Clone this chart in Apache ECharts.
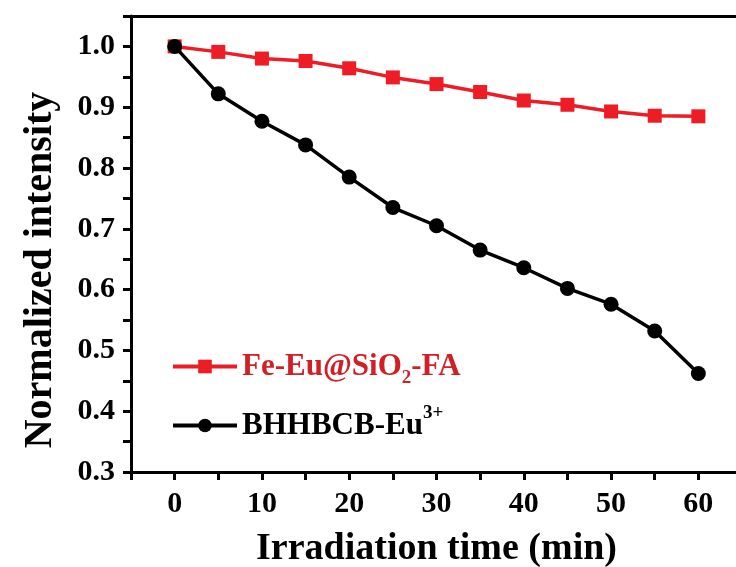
<!DOCTYPE html>
<html>
<head>
<meta charset="utf-8">
<script src="https://cdn.jsdelivr.net/npm/echarts@6/dist/echarts.min.js"></script>
<style>html,body{margin:0;padding:0;background:#fff}#c{width:736px;height:567px}</style>
</head>
<body>
<div id="c"></div>
<script>
var times = [0, 5, 10, 15, 20, 25, 30, 35, 40, 45, 50, 55, 60];
var feEuSiO2FA = [1.000, 0.991, 0.980, 0.976, 0.964, 0.949, 0.938, 0.925, 0.911, 0.904, 0.893, 0.886, 0.885];
var bhhbcbEu = [1.000, 0.922, 0.877, 0.838, 0.785, 0.735, 0.705, 0.665, 0.636, 0.602, 0.576, 0.532, 0.462];
var seriesNames = ['Fe-Eu@SiO2-FA', 'BHHBCB-Eu3+'];
var xTitle = 'Irradiation time (min)';
var yTitle = 'Normalized intensity';

var FONT = '"Liberation Serif", "Times New Roman", serif';
var RED = '#ee1c25';
var RED_TEXT = '#d11f26';

function pairs(xs, ys) { return xs.map(function (x, i) { return [x, ys[i]]; }); }

var chart = echarts.init(document.getElementById('c'), null, {renderer: 'canvas'});
chart.setOption({
  animation: false,
  backgroundColor: '#fff',
  grid: {left: 131, top: 16, width: 611, bottom: 95, show: false, containLabel: false, outerBoundsMode: 'none'},
  legend: {
    orient: 'vertical', left: 166, top: 346, itemWidth: 64, itemHeight: 17, itemGap: 16,
    data: seriesNames,
    lineStyle: {width: 4},
    formatter: function (name) {
      if (name === seriesNames[0]) return '{r|Fe-Eu@SiO}{rs|2}{r|-FA}';
      return '{k|BHHBCB-Eu}{ks|3+}';
    },
    textStyle: {
      fontFamily: FONT, fontWeight: 'bold', fontSize: 31,
      rich: {
        r: {color: RED_TEXT, fontFamily: FONT, fontWeight: 'bold', fontSize: 31},
        rs: {color: RED_TEXT, fontFamily: FONT, fontWeight: 'bold', fontSize: 19, padding: [24, 0, 0, 0]},
        k: {color: '#000', fontFamily: FONT, fontWeight: 'bold', fontSize: 31},
        ks: {color: '#000', fontFamily: FONT, fontWeight: 'bold', fontSize: 19, padding: [0, 0, 24, 0]}
      }
    }
  },
  xAxis: [{
    type: 'value', min: -5, max: 65, interval: 5,
    name: xTitle, nameLocation: 'middle', nameGap: 58,
    nameTextStyle: {fontFamily: FONT, fontWeight: 'bold', fontSize: 38, color: '#000'},
    axisLine: {show: true, onZero: false, lineStyle: {color: '#000', width: 3}},
    axisTick: {show: true, inside: false, length: 8, lineStyle: {color: '#000', width: 3}},
    splitLine: {show: false},
    axisLabel: {
      margin: 17, color: '#000', fontFamily: FONT, fontWeight: 'bold', fontSize: 30,
      formatter: function (v) { return (v >= 0 && Math.round(v) % 10 === 0) ? String(Math.round(v)) : ''; }
    }
  }, {
    type: 'value', position: 'top', min: -5, max: 65,
    axisLine: {show: true, onZero: false, lineStyle: {color: '#000', width: 3}},
    axisTick: {show: false}, axisLabel: {show: false}, splitLine: {show: false}
  }],
  yAxis: {
    type: 'value', min: 0.3, max: 1.05, interval: 0.05,
    name: yTitle, nameLocation: 'middle', nameGap: 70, nameRotate: 90,
    nameTextStyle: {fontFamily: FONT, fontWeight: 'bold', fontSize: 40, color: '#000', padding: [0, 52, 0, 0]},
    axisLine: {show: true, onZero: false, lineStyle: {color: '#000', width: 3}},
    axisTick: {show: true, inside: false, length: 8, lineStyle: {color: '#000', width: 3}},
    splitLine: {show: false},
    axisLabel: {
      margin: 16, color: '#000', fontFamily: FONT, fontWeight: 'bold', fontSize: 30,
      formatter: function (v) { var k = Math.round(v * 100); return (k % 10 === 0 && k <= 100) ? (k / 100).toFixed(1) : ''; }
    }
  },
  series: [
    {
      name: seriesNames[0], type: 'line', data: pairs(times, feEuSiO2FA),
      symbol: 'rect', symbolSize: 14, z: 2,
      lineStyle: {color: RED, width: 3.5}, itemStyle: {color: RED}
    },
    {
      name: seriesNames[1], type: 'line', data: pairs(times, bhhbcbEu),
      symbol: 'circle', symbolSize: 15, z: 3,
      lineStyle: {color: '#000', width: 3.5}, itemStyle: {color: '#000'}
    }
  ]
});
</script>
</body>
</html>
